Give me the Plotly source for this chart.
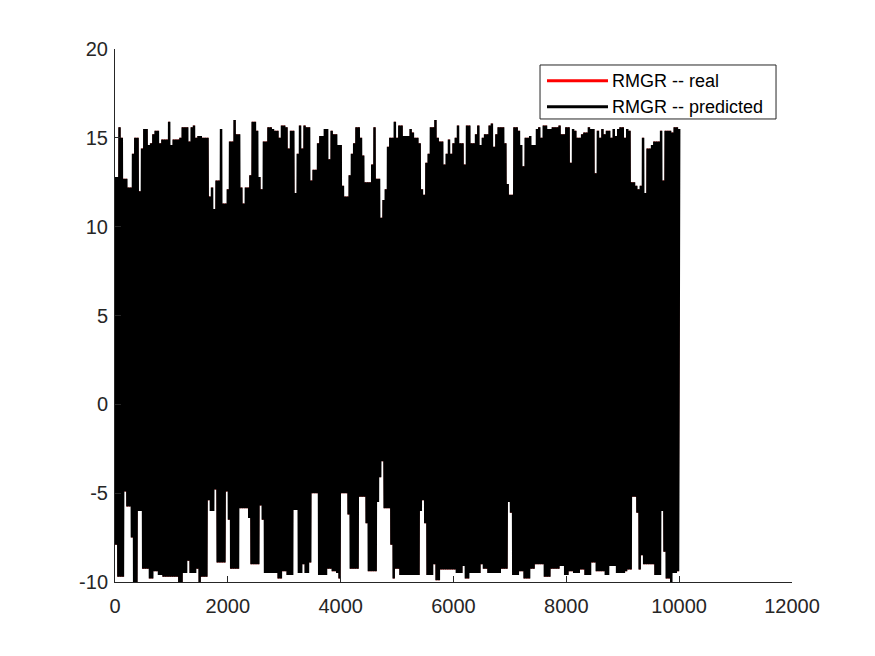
import numpy as np
import plotly.graph_objs as go

# Upper turning points of the RMGR trace (sample index where a level starts, value)
top_x = [0, 47, 106, 142, 213, 284, 319, 354, 413, 461,
         496, 567, 614, 650, 709, 791, 839, 921, 992, 1040,
         1122, 1193, 1229, 1288, 1323, 1382, 1429, 1477, 1559, 1654,
         1701, 1748, 1772, 1843, 1902, 1973, 2032, 2103, 2150, 2209,
         2280, 2315, 2363, 2410, 2481, 2528, 2575, 2623, 2705, 2776,
         2835, 2882, 2941, 3001, 3048, 3095, 3166, 3213, 3249, 3296,
         3355, 3390, 3461, 3509, 3568, 3627, 3698, 3769, 3828, 3875,
         3946, 4005, 4076, 4123, 4182, 4229, 4277, 4324, 4383, 4430,
         4536, 4584, 4631, 4690, 4725, 4784, 4832, 4879, 4926, 4973,
         5021, 5068, 5103, 5210, 5257, 5304, 5363, 5411, 5470, 5505,
         5552, 5600, 5659, 5694, 5753, 5812, 5848, 5883, 5930, 5977,
         6013, 6060, 6119, 6167, 6202, 6320, 6379, 6415, 6450, 6497,
         6556, 6604, 6651, 6698, 6757, 6793, 6911, 6958, 6994, 7041,
         7135, 7183, 7230, 7277, 7324, 7383, 7442, 7490, 7537, 7584,
         7667, 7726, 7844, 7891, 7986, 8045, 8092, 8139, 8199, 8258,
         8317, 8376, 8435, 8482, 8529, 8576, 8624, 8671, 8718, 8765,
         8813, 8860, 8907, 8954, 9002, 9061, 9108, 9155, 9203, 9250,
         9297, 9333, 9380, 9415, 9510, 9557, 9652, 9699, 9746, 9852,
         9900, 9994]
top_v = [12.8, 15.6, 15.0, 12.7, 12.2, 12.6, 14.1, 15.0, 12.0, 14.4,
         15.5, 14.6, 14.7, 15.2, 15.4, 14.7, 14.9, 15.9, 14.6, 14.9,
         15.0, 15.6, 15.6, 14.8, 15.6, 15.7, 15.0, 15.1, 15.0, 11.7,
         12.2, 11.0, 12.6, 15.5, 11.3, 12.1, 14.8, 16.0, 15.2, 12.2,
         11.3, 12.2, 12.9, 15.9, 15.4, 12.8, 12.1, 14.8, 15.6, 15.5,
         15.4, 15.0, 15.7, 15.6, 14.4, 15.4, 11.9, 14.1, 15.7, 14.4,
         15.7, 15.6, 12.6, 13.2, 14.7, 15.1, 15.5, 13.8, 15.4, 15.2,
         14.6, 12.3, 11.7, 12.9, 14.1, 14.7, 15.6, 15.0, 14.0, 12.5,
         13.5, 15.6, 12.7, 10.5, 11.5, 12.1, 14.5, 15.0, 15.9, 15.0,
         15.7, 15.7, 15.1, 15.5, 15.3, 15.0, 14.7, 12.1, 11.8, 13.6,
         14.1, 15.6, 16.0, 15.0, 14.8, 13.5, 14.1, 14.9, 14.1, 14.7,
         15.0, 15.7, 14.7, 13.5, 15.7, 14.7, 15.2, 15.7, 14.6, 15.0,
         15.2, 15.7, 15.8, 14.5, 15.2, 15.6, 14.7, 12.4, 11.8, 15.6,
         15.4, 14.6, 13.4, 15.0, 15.1, 14.6, 15.5, 15.6, 15.0, 15.7,
         15.5, 15.6, 15.7, 15.2, 15.6, 13.6, 15.5, 15.4, 15.0, 15.2,
         15.3, 15.6, 15.5, 13.0, 15.4, 15.0, 15.5, 15.2, 15.4, 15.0,
         15.5, 15.1, 15.5, 15.6, 15.0, 15.5, 15.4, 12.5, 12.3, 12.1,
         12.3, 15.0, 11.9, 14.4, 14.6, 14.8, 15.4, 12.6, 15.4, 15.3,
         15.6, 15.5]

# Lower turning points
bot_x = [0, 24, 59, 142, 177, 213, 284, 331, 402, 484,
         602, 673, 780, 851, 1134, 1205, 1300, 1335, 1429, 1477,
         1524, 1630, 1666, 1748, 1796, 1949, 1985, 2032, 2209, 2351,
         2398, 2564, 2599, 2646, 2894, 2965, 3048, 3154, 3237, 3331,
         3367, 3438, 3497, 3591, 3745, 3851, 3922, 3969, 4005, 4111,
         4158, 4336, 4430, 4477, 4631, 4678, 4714, 4749, 4773, 4867,
         4914, 4962, 5056, 5399, 5446, 5481, 5517, 5623, 5694, 5765,
         6025, 6155, 6202, 6273, 6462, 6521, 6604, 6840, 6958, 6994,
         7029, 7159, 7230, 7372, 7442, 7584, 7726, 7891, 7962, 8021,
         8139, 8234, 8328, 8458, 8506, 8671, 8765, 8895, 9025, 9096,
         9179, 9226, 9285, 9333, 9380, 9557, 9687, 9734, 9770, 9829,
         9888, 9947]
bot_v = [-7.9, -9.25, -9.7, -5.5, -4.9, -5.75, -7.5, -10.0, -6.0, -9.25,
         -9.8, -9.4, -9.6, -9.7, -10.0, -9.5, -8.8, -9.5, -9.25, -10.0,
         -9.7, -5.4, -6.0, -4.8, -8.9, -4.9, -6.5, -9.25, -5.85, -6.4,
         -9.0, -5.7, -6.5, -9.5, -9.8, -9.4, -9.6, -5.95, -9.5, -9.0,
         -9.5, -8.9, -5.0, -9.6, -9.25, -9.4, -9.5, -9.8, -5.0, -6.2,
         -9.25, -5.2, -6.7, -9.4, -5.5, -4.1, -3.2, -4.2, -5.85, -7.9,
         -9.8, -9.25, -9.6, -6.0, -5.4, -6.7, -9.6, -9.0, -9.9, -9.3,
         -9.5, -9.1, -9.8, -9.5, -9.0, -9.25, -9.5, -9.25, -5.5, -6.1,
         -9.6, -9.4, -9.8, -9.25, -9.0, -9.7, -9.25, -9.1, -9.6, -9.4,
         -9.5, -9.3, -9.6, -8.9, -9.4, -9.6, -9.1, -9.5, -9.4, -9.3,
         -5.2, -6.1, -9.3, -8.5, -9.0, -9.6, -6.0, -8.3, -9.8, -10.0,
         -9.5, -9.4]

# Axis ticks
y_ticks = [-10, -5, 0, 5, 10, 15, 20]
y_tick_labels = ['-10', '-5', '0', '5', '10', '15', '20']
x_ticks = [0, 2000, 4000, 6000, 8000, 10000, 12000]

n_samples = 10000
stride = 20

# Build the oscillating trace: alternate between upper and lower levels
t = np.arange(0, n_samples + 1, stride)
hi = np.array(top_v)[np.searchsorted(top_x, t, side='right') - 1]
lo = np.array(bot_v)[np.searchsorted(bot_x, t, side='right') - 1]
rmgr = np.where(np.arange(len(t)) % 2 == 0, hi, lo)

ink = '#262626'
font = dict(family='Liberation Sans, Arial, sans-serif', size=20, color=ink)

real = go.Scatter(x=t, y=rmgr, mode='lines', name='RMGR -- real',
                  line=dict(color='#FF0000', width=1.5), showlegend=False)
pred = go.Scatter(x=t, y=rmgr, mode='lines', name='RMGR -- predicted',
                  line=dict(color='#000000', width=2.5), showlegend=False)

axis = dict(showline=True, linecolor=ink, linewidth=1, mirror=False,
            ticks='inside', ticklen=6, tickcolor=ink, tickwidth=1,
            showgrid=False, zeroline=False, tickfont=font)

layout = go.Layout(
    width=860, height=640,
    margin=dict(l=107, r=76, t=41, b=66),
    paper_bgcolor='white', plot_bgcolor='white',
    xaxis=dict(axis, range=[0, 12000], tickvals=x_ticks,
               ticktext=[str(v) for v in x_ticks], ticklabelstandoff=6),
    yaxis=dict(axis, range=[-10, 20], tickvals=y_ticks,
               ticktext=y_tick_labels, ticklabelstandoff=2),
    showlegend=False,
)

fig = go.Figure(data=[real, pred], layout=layout)

# MATLAB-style legend box
fig.add_shape(type='rect', xref='paper', yref='paper',
              x0=0.6278, x1=0.9764, y0=0.8687, y1=0.970,
              line=dict(color=ink, width=1), fillcolor='white', layer='above')
for row_y, color, label in [(0.9405, '#FF0000', 'RMGR -- real'),
                            (0.8918, '#000000', 'RMGR -- predicted')]:
    fig.add_shape(type='line', xref='paper', yref='paper',
                  x0=0.6381, x1=0.7282, y0=row_y, y1=row_y,
                  line=dict(color=color, width=3), layer='above')
    fig.add_annotation(xref='paper', yref='paper', x=0.7355, y=row_y,
                       text=label, showarrow=False, xanchor='left', yanchor='middle',
                       xshift=-3,
                       font=dict(family='Liberation Sans, Arial, sans-serif', size=18, color='#000000'))

fig.write_html('out.html')
